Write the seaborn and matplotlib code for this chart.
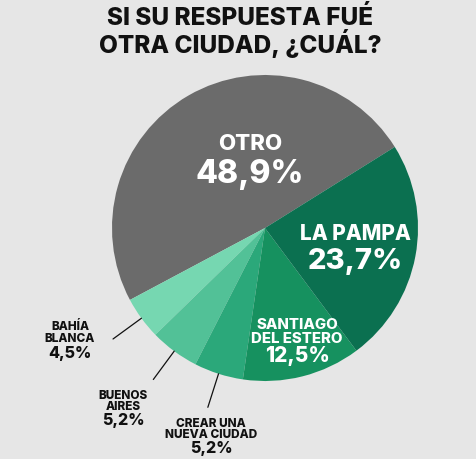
import numpy as np
import matplotlib.pyplot as plt
import seaborn as sns

## data
ciudades = ['OTRO', 'BAHÍA\nBLANCA', 'BUENOS\nAIRES', 'CREAR UNA\nNUEVA CIUDAD',
            'SANTIAGO\nDEL ESTERO', 'LA PAMPA']
porcentajes = [48.9, 4.5, 5.2, 5.2, 12.5, 23.7]
titulo = 'SI SU RESPUESTA FUÉ\nOTRA CIUDAD, ¿CUÁL?'

colores = ['#6b6b6b', '#76d7b1', '#52c197', '#2ba87a', '#16915f', '#0b7050']

sns.set_theme(style='white')
plt.rcParams['font.family'] = ['Inter', 'DejaVu Sans']

W, H = 476, 460
fig = plt.figure(figsize=(W / 100, H / 100), dpi=100)
fig.patch.set_facecolor('#e6e6e6')
ax = fig.add_axes([0, 0, 1, 1])
ax.set_facecolor('#e6e6e6')

## pie, in pixel coords with y going down
cx, cy, r = 265, 229, 153
wedges, _ = ax.pie(porcentajes, colors=colores, startangle=-32, counterclock=False,
                   center=(cx, cy), radius=r, wedgeprops=dict(linewidth=0))
ax.set_xlim(0, W)
ax.set_ylim(H, 0)
ax.set_aspect('equal')
ax.axis('off')

## title
ax.text(240, 53, titulo, ha='center', va='baseline', fontsize=17.5, linespacing=0.95,
        fontweight='heavy', color='#111111')

def fmt(v):
    return '{:.1f}%'.format(v).replace('.', ',')

## label layout: x, baseline of the last name line, baseline of the value, sizes, line spacing, color
layout = {
    'OTRO': (250, 150, 183, 16, 23, 1.0, 'white'),
    'LA PAMPA': (355, 240, 269, 15, 21, 1.0, 'white'),
    'SANTIAGO\nDEL ESTERO': (297, 343, 362, 10.8, 15, 1.0, 'white'),
    'BAHÍA\nBLANCA': (70, 342, 358, 8.5, 11.5, 1.0, '#111111'),
    'BUENOS\nAIRES': (123, 410, 425, 8.5, 11.5, 0.85, '#111111'),
    'CREAR UNA\nNUEVA CIUDAD': (211, 438, 453, 8.5, 11.5, 0.85, '#111111'),
}

for nombre, valor, w in zip(ciudades, porcentajes, wedges):
    x, yn, yv, s1, s2, ls, c = layout[nombre]
    ax.text(x, yn, nombre, ha='center', va='baseline', fontsize=s1, linespacing=ls,
            fontweight='heavy', color=c)
    ax.text(x, yv, fmt(valor), ha='center', va='baseline', fontsize=s2,
            fontweight='heavy', color=c)
    ## leader lines for the small slices
    if c != 'white':
        ang = np.deg2rad((w.theta1 + w.theta2) / 2)
        ax.plot([cx + r * np.cos(ang), cx + 1.23 * r * np.cos(ang)],
                [cy + r * np.sin(ang), cy + 1.23 * r * np.sin(ang)],
                color='#111111', lw=0.9)

fig.savefig('out.png', dpi=100, facecolor=fig.get_facecolor())
